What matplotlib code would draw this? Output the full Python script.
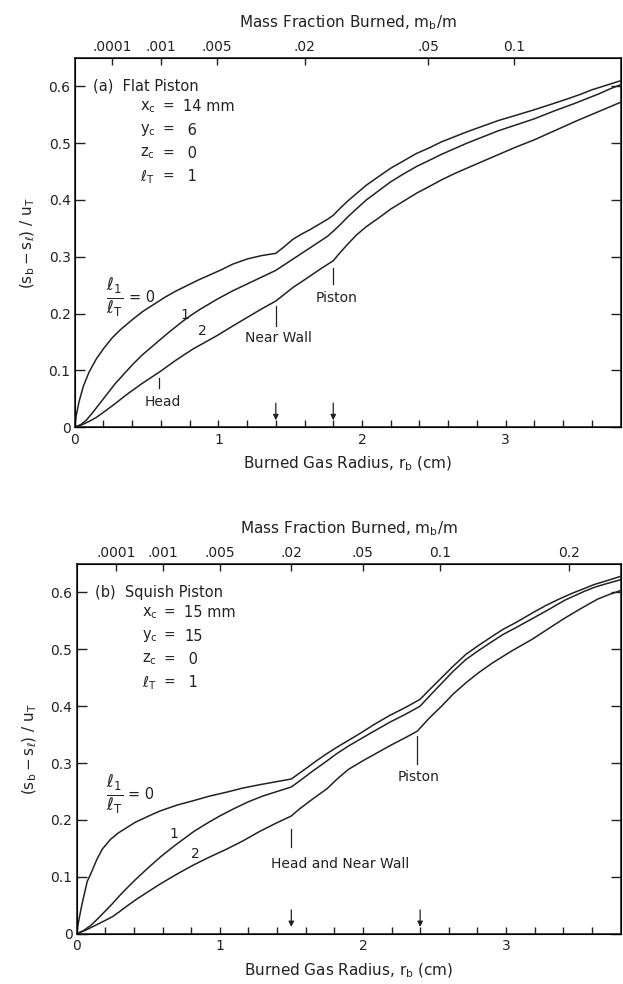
import numpy as np
import matplotlib
matplotlib.use("Agg")
import matplotlib.pyplot as plt

plt.rcParams['font.family'] = ['DejaVu Sans']
plt.rcParams['mathtext.default'] = 'regular'

INK = '#222222'

# ---- panel (a) flat piston: burned gas radius (cm) vs (sb - sl)/uT ----
a_r0 = [0, 0.01, 0.03, 0.06, 0.10, 0.15, 0.20, 0.26, 0.32, 0.40, 0.47, 0.55, 0.63, 0.70, 0.78, 0.86,
        0.94, 1.02, 1.10, 1.20, 1.30, 1.40, 1.46, 1.52, 1.58, 1.64, 1.70, 1.76, 1.80, 1.85, 1.90,
        1.96, 2.03, 2.12, 2.20, 2.29, 2.38, 2.47, 2.55, 2.64, 2.73, 2.84, 2.95, 3.07, 3.20, 3.31,
        3.43, 3.52, 3.60, 3.70, 3.80]
a_s0 = [0, 0.020, 0.045, 0.072, 0.097, 0.120, 0.138, 0.157, 0.172, 0.189, 0.203, 0.216, 0.229, 0.239,
        0.249, 0.259, 0.268, 0.277, 0.287, 0.296, 0.302, 0.306, 0.318, 0.331, 0.340, 0.348, 0.357,
        0.366, 0.373, 0.386, 0.398, 0.411, 0.426, 0.442, 0.456, 0.469, 0.482, 0.492, 0.502, 0.511,
        0.520, 0.530, 0.540, 0.549, 0.559, 0.568, 0.578, 0.586, 0.594, 0.602, 0.610]

a_r1 = [0, 0.04, 0.08, 0.12, 0.16, 0.20, 0.24, 0.28, 0.355, 0.41, 0.47, 0.53, 0.59, 0.67, 0.75,
        0.81, 0.87, 0.93, 0.99, 1.10, 1.20, 1.30, 1.40, 1.46, 1.52, 1.58, 1.64, 1.70, 1.76, 1.80,
        1.85, 1.90, 1.96, 2.03, 2.12, 2.20, 2.29, 2.38, 2.47, 2.55, 2.64, 2.73, 2.84, 2.95, 3.07,
        3.20, 3.34, 3.48, 3.56, 3.65, 3.72, 3.80]
a_s1 = [0, 0.004, 0.012, 0.024, 0.037, 0.050, 0.063, 0.076, 0.097, 0.112, 0.127, 0.140, 0.153,
        0.170, 0.186, 0.197, 0.207, 0.216, 0.225, 0.240, 0.252, 0.264, 0.276, 0.286, 0.296, 0.306,
        0.316, 0.326, 0.336, 0.345, 0.357, 0.370, 0.384, 0.400, 0.417, 0.432, 0.446, 0.459, 0.470,
        0.480, 0.490, 0.500, 0.511, 0.522, 0.532, 0.543, 0.557, 0.570, 0.578, 0.587, 0.595, 0.603]

a_r2 = [0, 0.05, 0.10, 0.15, 0.20, 0.28, 0.355, 0.47, 0.59, 0.70, 0.82, 0.99, 1.10, 1.20, 1.30,
        1.40, 1.46, 1.52, 1.58, 1.65, 1.72, 1.80, 1.85, 1.90, 1.96, 2.03, 2.12, 2.20, 2.29, 2.38,
        2.47, 2.55, 2.64, 2.73, 2.84, 2.95, 3.07, 3.20, 3.35, 3.50, 3.65, 3.80]
a_s2 = [0, 0.004, 0.010, 0.017, 0.026, 0.041, 0.056, 0.077, 0.097, 0.117, 0.137, 0.161, 0.178,
        0.193, 0.208, 0.222, 0.234, 0.246, 0.256, 0.268, 0.280, 0.293, 0.308, 0.322, 0.338, 0.353,
        0.369, 0.384, 0.398, 0.412, 0.424, 0.435, 0.446, 0.456, 0.468, 0.480, 0.493, 0.506, 0.523,
        0.540, 0.556, 0.572]

# ---- panel (b) squish piston ----
b_r0 = [0, 0.01, 0.02, 0.04, 0.074, 0.10, 0.14, 0.18, 0.237, 0.29, 0.353, 0.41, 0.47, 0.53, 0.585,
        0.70, 0.817, 0.93, 1.05, 1.16, 1.28, 1.39, 1.50, 1.55, 1.60, 1.67, 1.745, 1.82, 1.90, 1.98,
        2.08, 2.19, 2.30, 2.40, 2.47, 2.55, 2.63, 2.72, 2.81, 2.90, 2.98, 3.07, 3.20, 3.28, 3.37,
        3.46, 3.55, 3.62, 3.70, 3.80]
b_s0 = [0, 0.016, 0.030, 0.055, 0.092, 0.106, 0.130, 0.149, 0.166, 0.177, 0.187, 0.196, 0.203,
        0.210, 0.216, 0.226, 0.234, 0.242, 0.249, 0.256, 0.262, 0.267, 0.272, 0.281, 0.290, 0.303,
        0.316, 0.328, 0.340, 0.352, 0.368, 0.384, 0.398, 0.412, 0.430, 0.450, 0.470, 0.491, 0.507,
        0.522, 0.535, 0.547, 0.566, 0.577, 0.588, 0.598, 0.607, 0.614, 0.620, 0.628]

b_r1 = [0, 0.05, 0.10, 0.15, 0.20, 0.25, 0.30, 0.35, 0.41, 0.50, 0.59, 0.68, 0.75, 0.82, 0.91,
        1.00, 1.10, 1.20, 1.30, 1.40, 1.50, 1.555, 1.65, 1.745, 1.82, 1.90, 2.05, 2.19, 2.30, 2.40,
        2.47, 2.55, 2.63, 2.72, 2.81, 2.90, 2.98, 3.07, 3.20, 3.30, 3.41, 3.48, 3.55, 3.62, 3.70, 3.80]
b_s1 = [0, 0.006, 0.015, 0.027, 0.040, 0.053, 0.067, 0.080, 0.095, 0.116, 0.136, 0.154, 0.167,
        0.180, 0.194, 0.207, 0.220, 0.232, 0.242, 0.250, 0.258, 0.268, 0.286, 0.303, 0.317, 0.330,
        0.352, 0.372, 0.386, 0.400, 0.419, 0.440, 0.461, 0.482, 0.498, 0.513, 0.526, 0.538, 0.556,
        0.570, 0.586, 0.594, 0.602, 0.609, 0.615, 0.622]

b_r2 = [0, 0.06, 0.12, 0.18, 0.25, 0.30, 0.353, 0.42, 0.50, 0.58, 0.654, 0.73, 0.817, 0.93, 1.05,
        1.16, 1.28, 1.39, 1.50, 1.555, 1.65, 1.75, 1.82, 1.90, 2.00, 2.10, 2.20, 2.30, 2.38, 2.46,
        2.55, 2.63, 2.72, 2.81, 2.90, 3.04, 3.18, 3.29, 3.40, 3.52, 3.64, 3.72, 3.80]
b_s2 = [0, 0.006, 0.0135, 0.021, 0.030, 0.039, 0.049, 0.061, 0.074, 0.087, 0.098, 0.109, 0.121,
        0.135, 0.149, 0.163, 0.180, 0.194, 0.207, 0.219, 0.237, 0.255, 0.272, 0.289, 0.304, 0.318,
        0.332, 0.345, 0.356, 0.378, 0.400, 0.421, 0.441, 0.459, 0.475, 0.497, 0.517, 0.535, 0.553,
        0.571, 0.588, 0.596, 0.603]

# mass fraction burned scale on top (position in cm of burned radius)
a_mf_pos = [0.26, 0.60, 0.99, 1.60, 2.46, 3.06]
a_mf_lab = ['.0001', '.001', '.005', '.02', '.05', '0.1']
b_mf_pos = [0.275, 0.60, 1.00, 1.50, 2.00, 2.54, 3.44]
b_mf_lab = ['.0001', '.001', '.005', '.02', '.05', '0.1', '0.2']

# arrows on the radius axis
a_arrows = [1.4, 1.8]
b_arrows = [1.5, 2.4]

# event labels: text, x, tick y range, text y
a_events = [('Head', 0.59, 0.069, 0.087, 0.045),
            ('Near Wall', 1.40, 0.178, 0.213, 0.156),
            ('Piston', 1.80, 0.252, 0.281, 0.227)]
b_events = [('Piston', 2.38, 0.298, 0.347, 0.276)]

a_params = [('$x_c$', '14 mm'), ('$y_c$', ' 6'), ('$z_c$', ' 0'), (r'$\ell_T$', ' 1')]
b_params = [('$x_c$', '15 mm'), ('$y_c$', '15'), ('$z_c$', ' 0'), (r'$\ell_T$', ' 1')]


def draw_panel(ax, curves, mf_pos, mf_lab, arrows, title, params):
    for r, s in curves:
        ax.plot(r, s, color=INK, lw=1.1)
    ax.set_xlim(0, 3.8)
    ax.set_ylim(0, 0.65)
    ax.set_xticks([0, 1, 2, 3])
    ax.set_xticklabels(['0', '1', '2', '3'])
    ax.set_xticks(np.arange(0.2, 3.8, 0.2), minor=True)
    ax.set_yticks(np.arange(0, 0.61, 0.1))
    ax.set_yticklabels(['0', '0.1', '0.2', '0.3', '0.4', '0.5', '0.6'])
    ax.tick_params(axis='x', which='both', direction='in', length=5, width=1, colors=INK,
                   labelsize=10, pad=4, top=False)
    ax.tick_params(axis='y', direction='in', length=7, width=1, colors=INK, labelsize=10,
                   right=True, pad=3)
    for sp in ax.spines.values():
        sp.set_linewidth(1.2)
        sp.set_color(INK)
    ax.set_xlabel('Burned Gas Radius, $r_b$ (cm)', fontsize=11, color=INK, labelpad=6)
    ax.set_ylabel(r'$(s_b - s_\ell)\ /\ u_T$', fontsize=11, color=INK, labelpad=8)

    top = ax.twiny()
    top.set_xlim(0, 3.8)
    top.set_xticks(mf_pos)
    top.set_xticklabels(mf_lab)
    top.tick_params(axis='x', direction='in', length=5, width=1, colors=INK, labelsize=10, pad=3)
    top.set_xlabel('Mass Fraction Burned, $m_b$/m', fontsize=11, color=INK, labelpad=9)

    for x in arrows:
        ax.annotate('', xy=(x, 0.012), xytext=(x, 0.042),
                    arrowprops=dict(arrowstyle='-|>', lw=0.9, color=INK, mutation_scale=8,
                                    shrinkA=0, shrinkB=0))

    ax.text(0.033, 0.6, title, transform=ax.get_yaxis_transform(), fontsize=10.5,
            color=INK, va='center')
    for i, (name, val) in enumerate(params):
        yy = 0.564 - 0.041 * i
        ax.text(0.12, yy, name, transform=ax.get_yaxis_transform(), fontsize=10.5, color=INK, va='center')
        ax.text(0.171, yy, '=', transform=ax.get_yaxis_transform(), fontsize=10, color=INK,
                va='center', ha='center')
        ax.text(0.198, yy, val, transform=ax.get_yaxis_transform(), fontsize=10.5, color=INK, va='center')


fig = plt.figure(figsize=(6.23, 9.84), dpi=100)
ax_a = fig.add_axes([0.120, 0.566, 0.876, 0.375])
ax_b = fig.add_axes([0.123, 0.051, 0.873, 0.376])

draw_panel(ax_a, [(a_r0, a_s0), (a_r1, a_s1), (a_r2, a_s2)], a_mf_pos, a_mf_lab, a_arrows,
           '(a)  Flat Piston', a_params)
draw_panel(ax_b, [(b_r0, b_s0), (b_r1, b_s1), (b_r2, b_s2)], b_mf_pos, b_mf_lab, b_arrows,
           '(b)  Squish Piston', b_params)

# panel (a) labels
for txt, x, y1, y2, yt in a_events:
    ax_a.plot([x, x], [y1, y2], color=INK, lw=0.9)
    ax_a.text(x + 0.02, yt, txt, fontsize=10, color=INK, ha='center', va='center')
ax_a.text(0.28, 0.227, r'$\frac{\ell_1}{\ell_T}$', fontsize=17, color=INK, ha='center', va='center')
ax_a.text(0.375, 0.229, '= 0', fontsize=10.5, color=INK, ha='left', va='center')
ax_a.text(0.77, 0.197, '1', fontsize=10, color=INK, ha='center', va='center')
ax_a.text(0.89, 0.169, '2', fontsize=10, color=INK, ha='center', va='center')

# panel (b) labels
ax_b.plot([1.5, 1.5], [0.152, 0.184], color=INK, lw=0.9)
ax_b.text(1.84, 0.122, 'Head and Near Wall', fontsize=10, color=INK, ha='center', va='center')
for txt, x, y1, y2, yt in b_events:
    ax_b.plot([x, x], [y1, y2], color=INK, lw=0.9)
    ax_b.text(x + 0.01, yt, txt, fontsize=10, color=INK, ha='center', va='center')
ax_b.text(0.265, 0.243, r'$\frac{\ell_1}{\ell_T}$', fontsize=17, color=INK, ha='center', va='center')
ax_b.text(0.36, 0.245, '= 0', fontsize=10.5, color=INK, ha='left', va='center')
ax_b.text(0.677, 0.175, '1', fontsize=10, color=INK, ha='center', va='center')
ax_b.text(0.83, 0.14, '2', fontsize=10, color=INK, ha='center', va='center')

fig.savefig('out.png', dpi=100)
